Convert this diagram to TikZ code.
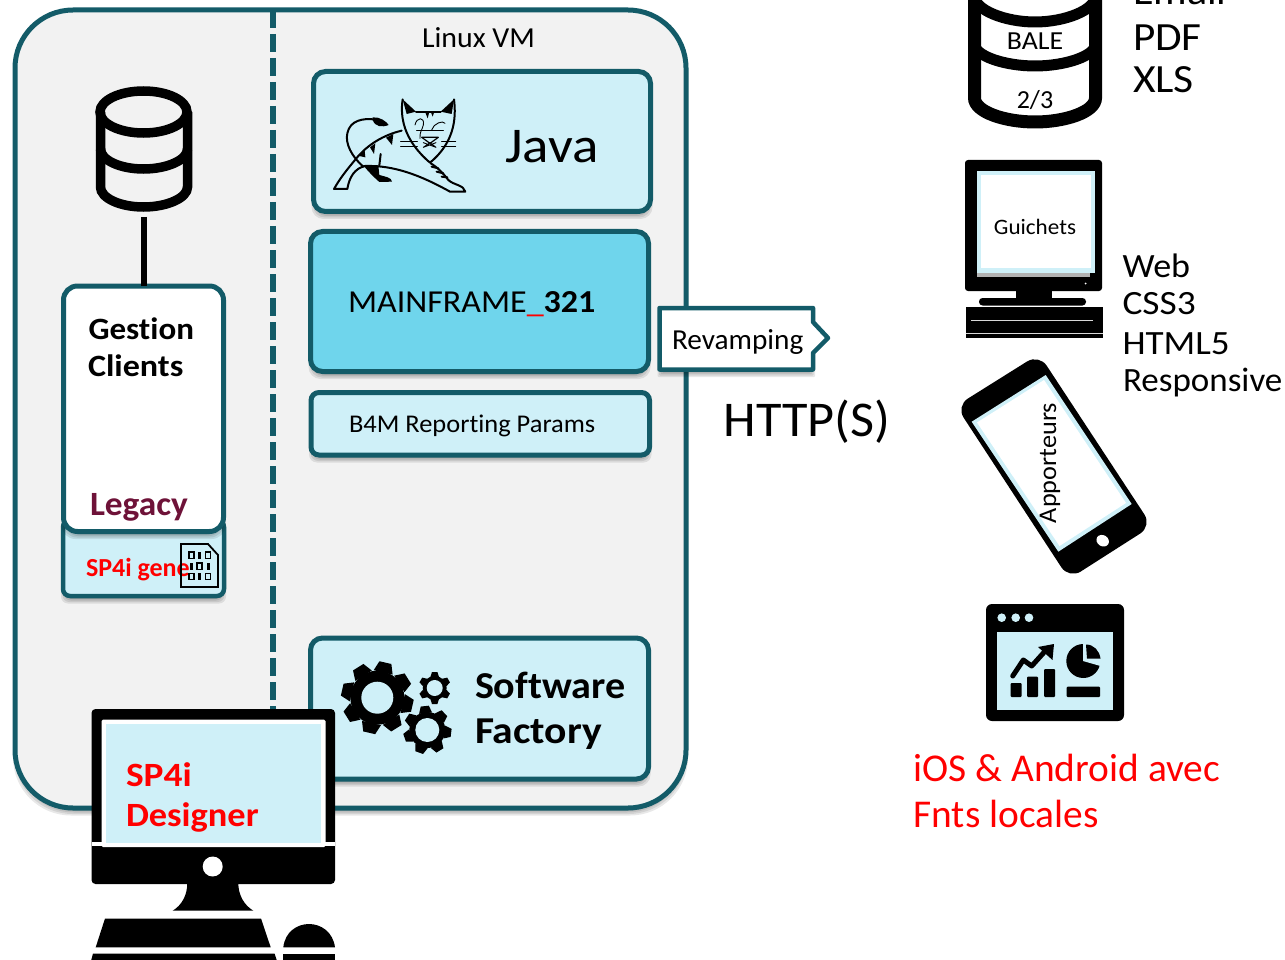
\documentclass[tikz,border=0pt]{standalone}
\usepackage{fontspec}
\usepackage{graphicx}
\setmainfont{Carlito}[Ligatures=NoCommon]
\usetikzlibrary{calc}
\definecolor{teal}{HTML}{135B68}
\definecolor{lblue}{HTML}{CFF0F8}
\definecolor{mblue}{HTML}{6FD5EC}
\definecolor{panel}{HTML}{F2F2F2}
\definecolor{wine}{HTML}{6E1238}
\newcommand{\fsz}[1]{\fontsize{#1pt}{#1pt}\selectfont}
\newcommand{\sx}[2]{\scalebox{#1}[1]{#2}}
\newcommand{\softshadow}[5]{% x1 y1 x2 y2 radius
  \foreach \k in {0,1.5,3,4.5}{
    \fill[black,opacity=.09,rounded corners=#5pt] (#1-\k+2.5,#2-\k+6) rectangle (#3+\k-2.5,#4+\k+3);
  }
}
\newcommand{\gearicon}[7]{% x y router rroot rhole teeth rot
  \fill[black] (#1,#2) circle (#4);
  \foreach \ga in {1,...,#6}{
    \fill[black,shift={(#1,#2)},rotate=#7+\ga*360/#6]
      (#4-1,-#3*0.27) -- (#3,-#3*0.17) -- (#3,#3*0.17) -- (#4-1,#3*0.27) -- cycle;
  }
  \fill[lblue] (#1,#2) circle (#5);
}
\newcommand{\zero}[2]{\draw[black,line width=1.5pt] (#1,#2) rectangle ++(5,6.2);}
\newcommand{\one}[2]{\fill[black] (#1,#2-.6) rectangle ++(3,7.4);}
\tikzset{
  box/.style={draw=teal,line width=5pt,rounded corners=12pt,fill=#1,inner sep=0pt,outer sep=0pt,anchor=north west},
  txt/.style={anchor=base west,inner sep=0pt,outer sep=0pt,align=left},
  ctxt/.style={anchor=base,inner sep=0pt,outer sep=0pt},
}
\begin{document}
\begin{tikzpicture}[x=1pt,y=-1pt]
\useasboundingbox (0,0) rectangle (1285,960);
\clip (0,0) rectangle (1285,960);
% main panel
\softshadow{15}{10}{686}{808}{58}
\node[box=panel,rounded corners=58pt,minimum width=671pt,minimum height=798pt] (vm) at (15,10) {};
\coordinate (dashtop) at (273,10);
\coordinate (dashbot) at (273,712);
\draw[black,opacity=.12,line width=6pt,dash pattern=on 18pt off 6pt,shift={(1.5,2)}] (dashtop) -- (dashbot);
\draw[teal,line width=6pt,dash pattern=on 18pt off 6pt] (dashtop) -- (dashbot);
\node[txt,font=\fsz{29}] (linux) at (422,48) {\sx{1.03}{Linux VM}};
% Java box
\softshadow{313.5}{71.5}{650.5}{211.5}{12}
\node[box=lblue,minimum width=337pt,minimum height=140pt] (java) at (313.5,71.5) {};
\node[txt,font=\fsz{50}] (javat) at (505,163) {\sx{1.1}{Java}};
% tomcat
\begin{scope}[shift={(310,60)},scale=1/3,line width=2pt,line join=round,line cap=round]
  \fill[black] (278,118) -- (318,155) -- (290,162) -- cycle;
  \fill[black] (432,118) -- (392,155) -- (425,162) -- cycle;
  \draw (278,118) .. controls (270,170) and (280,240) .. (360,308) .. controls (430,250) and (440,180) .. (432,118);
  \draw (318,155) -- (392,155);
  \fill[black] (345,155) -- (353,175) -- (358,155) -- cycle;
  \fill[black] (362,155) -- (368,170) -- (373,155) -- cycle;
  \draw[line width=.9pt] (315,195) .. controls (320,170) and (345,170) .. (340,195) .. controls (335,215) and (330,210) .. (330,235);
  \draw[line width=.9pt] (365,210) .. controls (370,190) and (400,180) .. (405,190);
  \draw[line width=.9pt] (320,210) -- (400,210);
  \draw[line width=1.2pt] (335,232) -- (385,232) -- (360,250) -- cycle;
  \draw[line width=.9pt] (340,262) -- (360,248) -- (378,262) (340,248) -- (378,262) (378,248) -- (340,262);
  \draw[line width=.9pt] (272,245) -- (322,245) (272,258) -- (322,258) (395,245) -- (437,245) (395,258) -- (437,258);
  \draw (275,212) .. controls (220,225) and (170,255) .. (135,300) .. controls (110,330) and (90,355) .. (72,387) -- (112,387) .. controls (118,350) and (135,325) .. (165,318) .. controls (250,315) and (330,345) .. (420,395) -- (466,395) .. controls (462,375) and (430,375) .. (415,360) .. controls (400,340) and (380,320) .. (362,310);
  \draw (160,320) .. controls (125,290) and (105,250) .. (112,220) .. controls (120,180) and (160,175) .. (190,178);
  \fill[black] (188,172) .. controls (210,170) and (230,185) .. (236,195) .. controls (215,203) and (195,200) .. (188,180) -- cycle;
  \fill[black] (160,316) -- (205,316) -- (208,345) .. controls (225,350) and (245,352) .. (246,365) -- (208,366) .. controls (190,350) and (175,335) .. (160,316) -- cycle;
  \draw (212,282) -- (208,316);
  \fill[black] (228,233) -- (250,222) -- (246,255) -- cycle;
  \fill[black] (180,262) -- (196,250) -- (192,282) -- cycle;
  \fill[black] (148,288) -- (164,272) -- (166,292) -- cycle;
  \draw (365,320) -- (385,325) (380,335) -- (400,340) (395,350) -- (412,352);
\end{scope}
% Mainframe
\softshadow{310.5}{231.5}{648.5}{371.5}{12}
\node[box=mblue,minimum width=338pt,minimum height=140pt] (mf) at (310.5,231.5) {};
\node[txt,font=\fsz{32}] (mft) at (348,312) {\sx{1.063}{MAINFRAME{\color{red}\_}\textbf{321}}};
% B4M
\softshadow{311}{392.5}{649.5}{455}{8}
\node[box=lblue,rounded corners=8pt,minimum width=338.5pt,minimum height=62.5pt] (b4m) at (311,392.5) {};
\node[txt,font=\fsz{25.5}] (b4mt) at (349,432) {\sx{1.037}{B4M Reporting Params}};
% Software factory
\softshadow{310.5}{638}{648.5}{779}{12}
\node[box=lblue,minimum width=338pt,minimum height=141pt] (sf) at (310.5,638) {};
\gearicon{377.3}{697.7}{36}{27}{16}{8}{32}
\gearicon{427.3}{730}{24}{18}{12}{7}{96}
\gearicon{434.7}{688}{16}{12}{8}{6}{90}
\node[txt,font=\fsz{38}\bfseries] (sft) at (475,698) {\sx{1.055}{Software}};
\node[txt,font=\fsz{38}\bfseries] (sft2) at (475,743) {\sx{1.095}{Factory}};
% SP4i gene box
\softshadow{63}{525}{224}{596}{7}
\node[box=lblue,line width=4.5pt,rounded corners=7pt,minimum width=161pt,minimum height=76pt] (gene) at (63,520) {};
\node[txt,font=\fsz{26}\bfseries,text=red] (genet) at (86,576) {SP4i gene};
% doc icon
\draw[black,line width=1.8pt,line join=miter] (181,544) -- (208,544) -- (218,555) -- (218,587) -- (181,587) -- cycle;
\zero{188.8}{552.2}\one{198}{552.2}\zero{205.5}{552.2}
\one{189.5}{563.2}\zero{197}{563.2}\one{207}{563.2}
\zero{188.8}{573.5}\one{198}{573.5}\zero{205.5}{573.5}
% Gestion box
\softshadow{63.5}{286}{223.5}{531.5}{14}
\node[box=white,rounded corners=14pt,minimum width=160pt,minimum height=245.5pt] (gc) at (63.5,286) {};
\node[txt,font=\fsz{31}\bfseries] (g1) at (88.5,339) {\sx{1.065}{Gestion}};
\node[txt,font=\fsz{31}\bfseries] (g2) at (88,376) {\sx{1.1}{Clients}};
\node[txt,font=\fsz{34}\bfseries,text=wine] (leg) at (90,515) {\sx{1.04}{Legacy}};
% DB icon left
\node[inner sep=0pt,outer sep=0pt,minimum size=1pt] (dbb) at (143.5,217) {};
\draw[black,line width=6pt] (dbb.center) -- (dbb.center |- gc.north);
\begin{scope}[line width=9.5pt,draw=black]
  \draw (100.5,112) -- (100.5,187) .. controls (100.5,198) and (120,207) .. (143.5,207) .. controls (167,207) and (187.5,198) .. (187.5,187) -- (187.5,112);
  \draw (100.5,149) .. controls (100.5,160) and (120,169) .. (143.5,169) .. controls (167,169) and (187.5,160) .. (187.5,149);
  \draw (143.5,112) ellipse (43.5 and 21);
\end{scope}
% SP4i designer monitor
\fill[black,rounded corners=4pt] (91.5,709) rectangle (335,884);
\fill[white] (91.5,842) rectangle (335,846);
\fill[white,rounded corners=1.5pt] (101.5,719.5) rectangle (325.5,847);
\node[fill=lblue,minimum width=215pt,minimum height=119pt,inner sep=0pt,outer sep=0pt,anchor=north west] (des) at (106,724) {};
\node[txt,font=\fsz{34}\bfseries,text=red] (d1) at (126,786) {\sx{1.1}{SP4i}};
\node[txt,font=\fsz{34}\bfseries,text=red] (d2) at (126,826) {\sx{1.07}{Designer}};
\fill[white] (212.7,866.5) circle (10);
\fill[black] (187.3,883) .. controls (187.3,895) and (182,905) .. (172.7,910.7) -- (253.3,910.7) .. controls (244,905) and (238.3,895) .. (238.3,883) -- cycle;
\fill[black] (105,918.5) -- (261,918.5) -- (270.7,947.3) -- (95.7,947.3) -- cycle;
\fill[black] (93,953.5) -- (274.5,953.5) -- (277,961) -- (91,961) -- cycle;
\fill[black] (283.3,947.3) .. controls (285,932) and (297,924) .. (309,924) .. controls (321,924) and (333,932) .. (335,947.3) -- cycle;
\fill[black] (283.3,953.5) rectangle (335,961);
% Revamping
\softshadow{659.5}{308}{813}{369.5}{1}
\draw[teal,line width=4.5pt,fill=white,line join=round] (659.5,308) -- (813,308) -- (813,322) -- (828,338) -- (813,353) -- (813,369.5) -- (659.5,369.5) -- cycle;
\node[txt,font=\fsz{29}] (rev) at (672,349) {\sx{1.01}{Revamping}};
\node[txt,font=\fsz{50}] (http) at (723.5,436) {\sx{1.045}{HTTP(S)}};
% BALE db
\begin{scope}[line width=13pt,draw=black]
  \draw (974.5,-20) -- (974.5,98) .. controls (974.5,112) and (1005,122) .. (1035,122) .. controls (1065,122) and (1095.5,112) .. (1095.5,98) -- (1095.5,-20);
\end{scope}
\begin{scope}[line width=11pt,draw=black]
  \draw (974.5,-4) .. controls (974.5,10) and (1005,22) .. (1035,22) .. controls (1065,22) and (1095.5,10) .. (1095.5,-4);
  \draw (974.5,44) .. controls (974.5,56) and (1005,66) .. (1035,66) .. controls (1065,66) and (1095.5,56) .. (1095.5,44);
\end{scope}
\node[ctxt,font=\fsz{26}] (bale) at (1035,50) {\sx{1.07}{BALE}};
\node[ctxt,font=\fsz{26}] (ver) at (1035,109) {2/3};
\node[txt,font=\fsz{40}] (em) at (1133,5) {\sx{1.05}{Email}};
\node[txt,font=\fsz{40}] (pdf) at (1133,51) {\sx{1.08}{PDF}};
\node[txt,font=\fsz{40}] (xls) at (1133,93) {\sx{1.09}{XLS}};
% Guichets
\fill[black,rounded corners=3pt] (965,160) rectangle (1102,291);
\fill[lblue] (976.7,170.7) rectangle (1095,273);
\fill[black!30] (976.7,273) rectangle (1090,277.3);
\node[fill=white,minimum width=110.3pt,minimum height=93.3pt,inner sep=0pt,outer sep=0pt,anchor=north west] (gui) at (980.7,175) {};
\node[ctxt,font=\fsz{22}] at (1035,234) {\sx{1.05}{Guichets}};
\fill[white] (1085.5,283.5) circle (1);
\fill[black] (1016,291) rectangle (1052,298);
\fill[black,rounded corners=3.5pt] (979,298) rectangle (1086,305.5);
\fill[black] (965.5,307) rectangle (1103,338);
\draw[black!15,line width=.8pt] (971,320) -- (1093,320);
\draw[black!15,line width=1pt] (965.5,333) -- (1103,333);
\node[txt,font=\fsz{34}] (w1) at (1122.5,277) {\sx{1.06}{Web}};
\node[txt,font=\fsz{34}] (w2) at (1122.5,314) {\sx{1.1}{CSS3}};
\node[txt,font=\fsz{34}] (w3) at (1122.5,354) {\sx{1.09}{HTML5}};
\node[txt,font=\fsz{34}] (w4) at (1123,391.5) {\sx{1.03}{Responsive}};
% phone
\fill[black,rounded corners=14pt] (1039,354) -- (956,406) -- (1069,579) -- (1152,526) -- cycle;
\fill[lblue] (1045.7,375) -- (971.7,421.7) -- (1058.3,551.7) -- (1131.7,504) -- cycle;
\fill[white] (1044,380) -- (977,422.5) -- (1059.5,546) -- (1126,503) -- cycle;
\fill[white,rotate around={-32:(1102.7,540.7)}] (1102.7,540.7) ellipse (6.5 and 5.5);
\node[inner sep=0pt,rotate=90,font=\fsz{25.5}] (app) at (1050,463) {\sx{1.03}{Apporteurs}};
% dashboard
\fill[black,rounded corners=6pt] (986,604) rectangle (1124,721);
\fill[lblue] (996.7,631.7) rectangle (1113,710);
\foreach \dx in {1001.7,1015.7,1029}{ \fill[lblue] (\dx,617.7) circle (4.3); }
\fill[black,rounded corners=1pt] (1010.7,683) rectangle (1021.7,697);
\fill[black,rounded corners=1pt] (1027,676.7) rectangle (1038,697);
\fill[black,rounded corners=1pt] (1044,669) rectangle (1055,697);
\draw[black,line width=5pt,line join=round,line cap=round] (1012.7,676) -- (1023.3,660) -- (1031.7,666) -- (1047,649);
\fill[black] (1054,644) -- (1052.5,660) -- (1038,647) -- cycle;
\fill[black] (1083.3,661) circle (17);
\fill[lblue] (1083,661) -- (1083,640) -- (1104,640) -- (1104,667) -- cycle;
\fill[black] (1086,644.5) .. controls (1094,644.5) and (1099.5,651) .. (1100.5,658.5) -- (1087,658.5) -- cycle;
\fill[black,rounded corners=1pt] (1066.7,686.7) rectangle (1100,697);
\node[txt,font=\fsz{39.4},text=red] (i1) at (913.5,781.5) {iOS \& Android avec};
\node[txt,font=\fsz{39.4},text=red] (i2) at (913.5,827) {Fnts locales};
\end{tikzpicture}
\end{document}
